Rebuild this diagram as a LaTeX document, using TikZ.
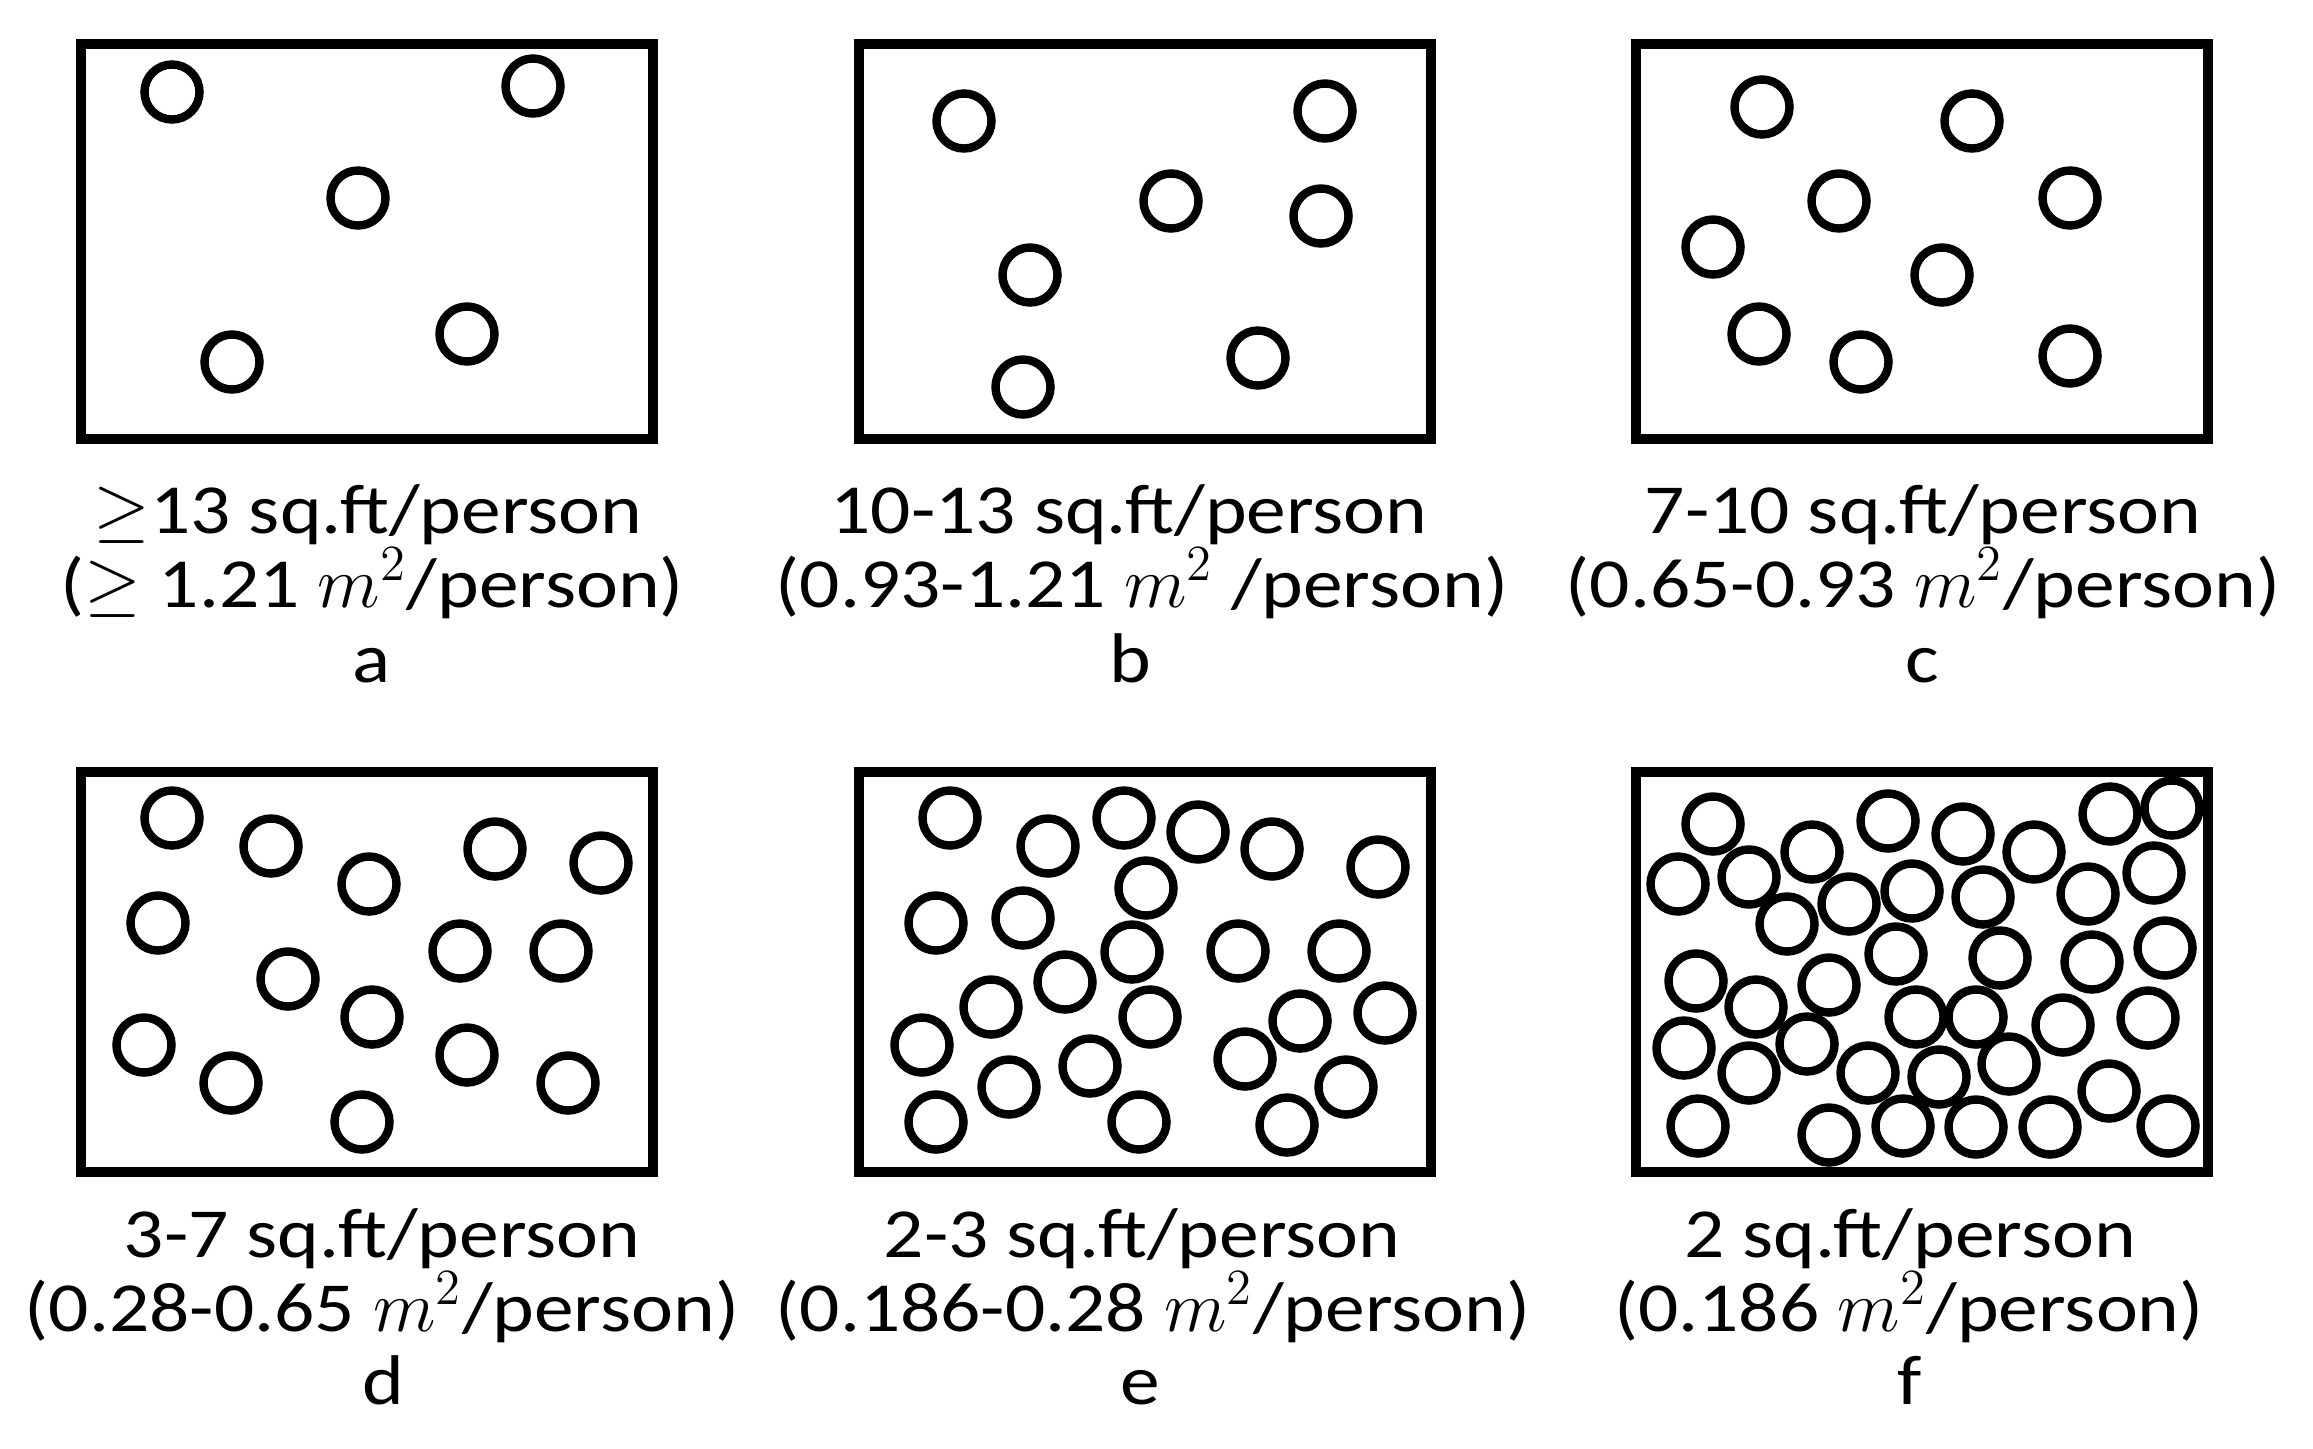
\documentclass[tikz,border=0pt]{standalone}
\usepackage{fontspec}
\setmainfont{Carlito}[FakeStretch=1.13]
\begin{document}
\begin{tikzpicture}[x=0.01cm,y=-0.01cm,
  frame/.style={line width=2.85pt},
  person/.style={line width=2.4pt},
  lbl/.style={anchor=base, inner sep=0pt, font=\fontsize{20}{24}\selectfont}]
\useasboundingbox (0,0) rectangle (2313,1448);
% frames
\draw[frame] (81,44) rectangle (653,439);
\draw[frame] (859,44) rectangle (1431,439);
\draw[frame] (1636,44) rectangle (2208,439);
\draw[frame] (81,772) rectangle (653,1172);
\draw[frame] (859,772) rectangle (1431,1172);
\draw[frame] (1636,772) rectangle (2208,1172);
% panel a
\foreach \x/\y in {172/92, 533/86, 358/198, 232/362, 467/334}
  \draw[person] (\x,\y) circle[radius=0.275cm];
% panel b
\foreach \x/\y in {964/121, 1325/111, 1171/201, 1321/216, 1030/275, 1258/358, 1023/387}
  \draw[person] (\x,\y) circle[radius=0.275cm];
% panel c
\foreach \x/\y in {1762/107, 1972/121, 1839/201, 2070/198, 1713/247, 1942/275, 1759/334, 1861/362, 2070/356}
  \draw[person] (\x,\y) circle[radius=0.275cm];
% panel d
\foreach \x/\y in {172/818, 271/846, 369/884, 495/849, 601/863, 158/923, 288/979, 460/951, 561/951, 372/1017, 144/1045, 231/1083, 467/1055, 568/1083, 362/1122}
  \draw[person] (\x,\y) circle[radius=0.275cm];
% panel e
\foreach \x/\y in {950/818, 1048/846, 1124/818, 1198/832, 1272/849, 1378/867, 1146/888, 936/923, 1023/918, 1132/952, 1238/951, 1339/951, 1065/982, 991/1007, 1150/1017, 1300/1021, 1385/1013, 922/1045, 1090/1066, 1245/1059, 1009/1087, 1346/1087, 936/1122, 1139/1122, 1287/1125}
  \draw[person] (\x,\y) circle[radius=0.275cm];
% panel f
\foreach \x/\y in {1713/824, 1888/821, 1963/834, 2034/852, 2110/814, 2172/808, 1678/884, 1749/877, 1812/852, 1849/904, 1912/891, 1983/897, 2088/894, 2154/873, 1787/924, 1896/954, 2000/958, 2092/962, 2165/948, 1696/981, 1756/1007, 1829/985, 1916/1017, 1976/1017, 2063/1025, 2148/1018, 1684/1048, 1749/1073, 1807/1044, 1868/1073, 1939/1077, 2009/1064, 2109/1091, 1698/1126, 1829/1135, 1903/1126, 1976/1127, 2050/1127, 2168/1126}
  \draw[person] (\x,\y) circle[radius=0.275cm];
% labels top row
\node[lbl] (a1) at (368,533) {$\geq$13 sq.ft/person};
\node[lbl] (a2) at (372,607) {($\geq$ 1.21 $m^2$/person)};
\node[lbl] (a3) at (372,682) {a};
\node[lbl] (b1) at (1129,533) {10-13 sq.ft/person};
\node[lbl] (b2) at (1142,607) {(0.93-1.21 $m^2$ /person)};
\node[lbl] (b3) at (1130,682) {b};
\node[lbl] (c1) at (1923,533) {7-10 sq.ft/person};
\node[lbl] (c2) at (1923,607) {(0.65-0.93 $m^2$/person)};
\node[lbl] (c3) at (1922,682) {c};
% labels bottom row
\node[lbl] (d1) at (382,1257) {3-7 sq.ft/person};
\node[lbl] (d2) at (382,1331) {(0.28-0.65 $m^2$/person)};
\node[lbl] (d3) at (383,1404) {d};
\node[lbl] (e1) at (1142,1257) {2-3 sq.ft/person};
\node[lbl] (e2) at (1153,1331) {(0.186-0.28 $m^2$/person)};
\node[lbl] (e3) at (1140,1404) {e};
\node[lbl] (f1) at (1910,1257) {2 sq.ft/person};
\node[lbl] (f2) at (1909,1331) {(0.186 $m^2$/person)};
\node[lbl] (f3) at (1910,1404) {f};
\end{tikzpicture}
\end{document}
